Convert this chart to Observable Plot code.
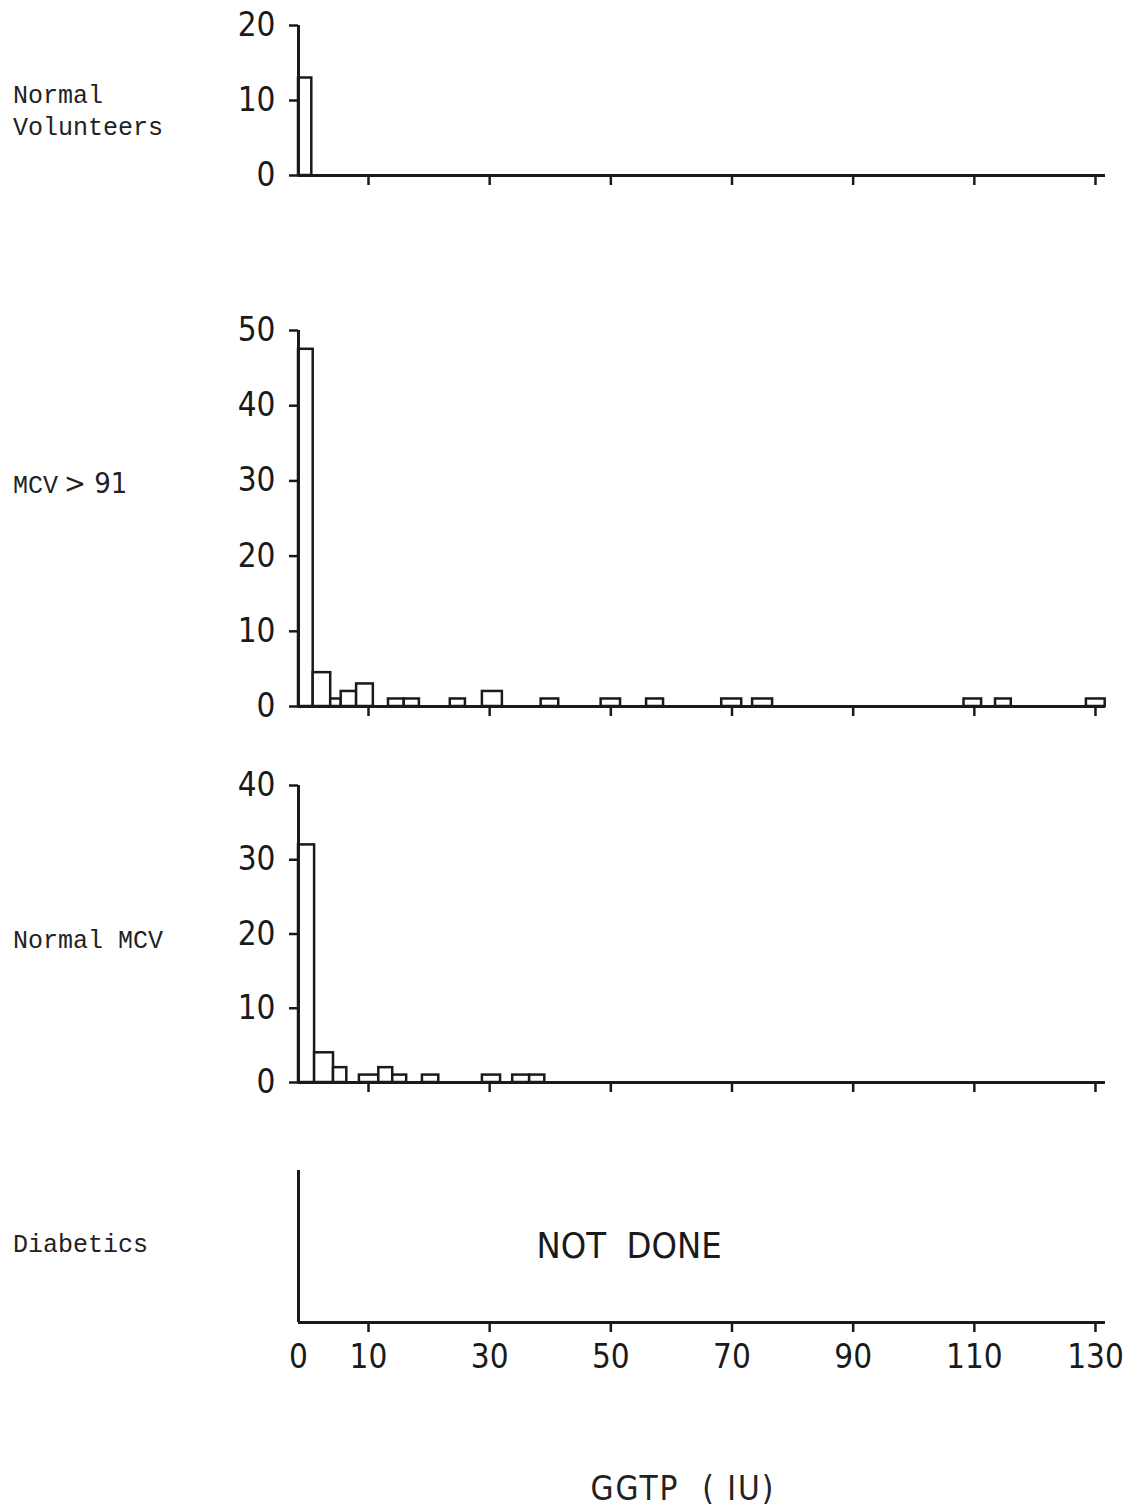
<!DOCTYPE html>
<html><head><meta charset="utf-8">
<script src="https://cdn.jsdelivr.net/npm/d3@7"></script>
<script src="https://cdn.jsdelivr.net/npm/@observablehq/plot@0.6"></script>
<style>
body{margin:0;background:#fff;}
#wrap{position:relative;width:1123px;height:1509px;overflow:hidden;}
.panel{position:absolute;left:0;}
.lab{position:absolute;left:13px;font-family:"Liberation Mono",monospace;font-size:25px;line-height:32px;color:#222;transform:translateY(-50%);white-space:nowrap;}
#xlab{position:absolute;left:683px;top:1488px;transform:translate(-50%,-50%);letter-spacing:2px;color:#222;white-space:pre;}
</style></head>
<body><div id="wrap"></div>
<script>
// ---- data ----
const xTicks = [10, 30, 50, 70, 90, 110, 130];
const xLabelTicks = [0, 10, 30, 50, 70, 90, 110, 130];
const panelNames = ["Normal\nVolunteers", "MCV > 91", "Normal MCV", "Diabetics"];

// Normal Volunteers
const volStart = [0];
const volEnd = [1.9];
const volCount = [13];
const volYTicks = [0, 10, 20];

// MCV > 91
const hiStart = [0, 2.1, 4.6, 6.1, 8.3, 13.3, 15.9, 23.5, 28.8, 38.5, 48.4, 55.9, 68.3, 73.4, 108.3, 113.5, 128.5];
const hiEnd   = [2.1, 4.6, 6.1, 8.3, 10.8, 15.9, 18.4, 26.0, 32.1, 41.4, 51.6, 58.7, 71.6, 76.7, 111.2, 116.1, 131.6];
const hiCount = [47.5, 4.5, 1, 2, 3, 1, 1, 1, 2, 1, 1, 1, 1, 1, 1, 1, 1];
const hiYTicks = [0, 10, 20, 30, 40, 50];

// Normal MCV
const nmStart = [0, 2.3, 5.0, 8.7, 11.7, 14.0, 18.9, 28.8, 33.8, 36.6];
const nmEnd   = [2.3, 5.0, 6.9, 11.7, 14.0, 16.3, 21.6, 31.8, 36.6, 39.1];
const nmCount = [32, 4, 2, 1, 2, 1, 1, 1, 1, 1];
const nmYTicks = [0, 10, 20, 30, 40];

const notDoneText = "NOT\u00a0\u00a0DONE";
const xAxisTitle = "GGTP  ( IU)";

// ---- pick a narrow sans font that is installed ----
function pickFont(cands) {
  const c = document.createElement("canvas").getContext("2d");
  const s = "130 NOT DONE GGTP";
  c.font = "36px monospace";
  const base = c.measureText(s).width;
  for (const [f, size, weight] of cands) {
    c.font = `${weight} 36px "${f}", monospace`;
    if (Math.abs(c.measureText(s).width - base) > 0.5) return {f, size, weight};
  }
  return {f: "Roboto", size: 32, weight: 300};
}
const font = pickFont([["Liberation Sans Narrow", 37, 400], ["DejaVu Sans Condensed", 33, 400], ["Roboto Condensed", 35, 300], ["Roboto", 32, 300]]);
const sansFont = `"${font.f}", sans-serif`;
const fs = font.size;

// ---- build ----
const ink = "#1a1a1a";
const toBars = (s, e, c) => s.map((d, i) => ({x1: d, x2: e[i], count: c[i]}));

function panel({top, yMax, yTicks, bars, frameH, marginTop = 30, marginBottom = 30, bottomLabels = false, note = null}) {
  const height = marginTop + frameH + marginBottom;
  const marks = [];
  if (bars) marks.push(Plot.rect(bars, {x1: "x1", x2: "x2", y1: 0, y2: "count", fill: "white", stroke: ink, strokeWidth: 2.5}));
  marks.push(Plot.ruleY([0], {stroke: ink, strokeWidth: 3}));
  marks.push(Plot.ruleX([0], {stroke: ink, strokeWidth: 3}));
  if (yTicks) marks.push(Plot.axisY({ticks: yTicks, tickSize: 9, tickPadding: 14, strokeWidth: 2.5, stroke: ink, fill: ink, fontSize: fs, fontWeight: font.weight, label: null}));
  marks.push(Plot.axisX({ticks: xTicks, tickSize: 10, tickFormat: () => "", strokeWidth: 2.5, stroke: ink, label: null}));
  if (bottomLabels) marks.push(Plot.axisX({ticks: xLabelTicks, tickSize: 0, tickPadding: 22, fill: ink, fontSize: fs, fontWeight: font.weight, label: null}));
  if (note) marks.push(Plot.text([note], {x: 53, frameAnchor: "middle", fontSize: fs + 3, fontWeight: font.weight, fill: ink}));
  const svg = Plot.plot({
    width: 1123, height, marginTop, marginBottom, marginLeft: 298, marginRight: 18,
    x: {type: "linear", domain: [0, 10, 130], range: [298, 368, 1095], axis: null},
    y: {domain: [0, yMax], axis: null},
    style: {background: "transparent", color: ink, fontFamily: sansFont, fontSize: fs + "px", overflow: "visible"},
    marks
  });
  svg.classList.add("panel");
  svg.style.top = top + "px";
  document.getElementById("wrap").appendChild(svg);
}

panel({top: 0, marginTop: 25, frameH: 150, yMax: 20, yTicks: volYTicks, bars: toBars(volStart, volEnd, volCount)});
panel({top: 300, frameH: 376, yMax: 50, yTicks: hiYTicks, bars: toBars(hiStart, hiEnd, hiCount)});
panel({top: 755, frameH: 297, yMax: 40, yTicks: nmYTicks, bars: toBars(nmStart, nmEnd, nmCount)});
panel({top: 1140, frameH: 152, yMax: 1, yTicks: null, bars: null, marginBottom: 70, bottomLabels: true, note: notDoneText});

const wrap = document.getElementById("wrap");
const labY = [113, 485, 942, 1246];
panelNames.forEach((name, i) => {
  const d = document.createElement("div");
  d.className = "lab";
  d.style.top = labY[i] + "px";
  if (name.startsWith("MCV")) {
    d.innerHTML = 'MCV<span style="margin-left:6px;font-family:' + sansFont.replace(/"/g, "'") + ';font-size:' + (fs - 4) + 'px;font-weight:' + font.weight + '">' + name.slice(4).replace(">", "&gt;") + '</span>';
  } else {
    d.innerHTML = name.replace("\n", "<br>");
  }
  wrap.appendChild(d);
});
const xl = document.createElement("div");
xl.id = "xlab";
xl.style.fontFamily = sansFont;
xl.style.fontSize = fs + "px";
xl.style.fontWeight = font.weight;
xl.textContent = xAxisTitle;
wrap.appendChild(xl);
</script>
</body></html>
